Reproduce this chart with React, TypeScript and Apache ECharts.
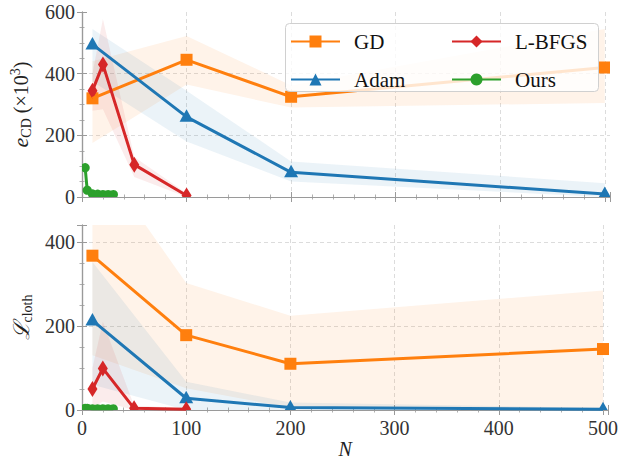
import React, { useEffect, useRef } from 'react';
import * as echarts from 'echarts';

// ---------- data ----------
const methodNames = ['GD', 'Adam', 'L-BFGS', 'Ours'];
const methodColors = ['#ff7f0e', '#1f77b4', '#d62728', '#2ca02c'];
const markerKinds = ['square', 'triangle', 'diamond', 'circle'];
const legendSymbols = ['rect', 'triangle', 'diamond', 'circle'];

const nGD = [10, 100, 200, 500];
const nAdam = [10, 100, 200, 500];
const nLBFGS = [10, 20, 50, 100];
const nOurs = [3, 5, 10, 15, 20, 25, 30];

// top panel: e_CD (x10^3)
const gdCD = [320, 445, 325, 420];
const gdCDLo = [175, 365, 290, 305];
const gdCDHi = [440, 522, 362, 545];
const adamCD = [495, 260, 80, 10];
const adamCDLo = [375, 180, 50, 0];
const adamCDHi = [545, 345, 115, 45];
const lbfgsCD = [345, 430, 105, 5];
const lbfgsCDLo = [280, 285, 65, 0];
const lbfgsCDHi = [400, 577, 130, 12];
const oursCD = [95, 22, 10, 9, 8, 8, 8];
const oursCDLo = [70, 10, 4, 4, 3, 3, 3];
const oursCDHi = [135, 35, 16, 14, 13, 13, 13];

// bottom panel: L_cloth
const gdL = [367, 178, 110, 145];
const gdLLo = [130, 52, 5, 5];
const gdLHi = [620, 302, 224, 284];
const adamL = [213, 28, 6, 2];
const adamLLo = [60, 0, 0, 0];
const adamLHi = [352, 67, 18, 5];
const lbfgsL = [50, 99, 4, 2];
const lbfgsLLo = [5, 20, 0, 0];
const lbfgsLHi = [100, 210, 10, 5];
const oursL = [4, 4, 3, 3, 3, 3, 3];
const oursLLo = [2, 2, 1, 1, 1, 1, 1];
const oursLHi = [7, 7, 6, 6, 6, 6, 6];

const xTicks = [0, 100, 200, 300, 400, 500];
const yTicksTop = [0, 200, 400, 600];
const yTicksBottom = [0, 200, 400];

const panels = [
  {
    xs: [nGD, nAdam, nLBFGS, nOurs],
    mean: [gdCD, adamCD, lbfgsCD, oursCD],
    lo: [gdCDLo, adamCDLo, lbfgsCDLo, oursCDLo],
    hi: [gdCDHi, adamCDHi, lbfgsCDHi, oursCDHi],
  },
  {
    xs: [nGD, nAdam, nLBFGS, nOurs],
    mean: [gdL, adamL, lbfgsL, oursL],
    lo: [gdLLo, adamLLo, lbfgsLLo, oursLLo],
    hi: [gdLHi, adamLHi, lbfgsLHi, oursLHi],
  },
];

const FONT = '"Liberation Serif", "Times New Roman", serif';
const AXIS_COLOR = '#9a9a9a';
const LABEL_COLOR = '#333';

function bandSeries(gi: number, mi: number) {
  const p = panels[gi];
  const xs = p.xs[mi];
  const lo = p.lo[mi];
  const hi = p.hi[mi];
  return {
    type: 'custom',
    xAxisIndex: gi,
    yAxisIndex: gi,
    clip: true,
    silent: true,
    data: xs.map((x, i) => [x, lo[i], hi[i]]),
    encode: { x: 0, y: [1, 2] },
    renderItem: (params: any, api: any) => {
      if (params.dataIndex !== 0) return null;
      const pts: number[][] = [];
      for (let i = 0; i < xs.length; i++) pts.push(api.coord([xs[i], hi[i]]));
      for (let i = xs.length - 1; i >= 0; i--) pts.push(api.coord([xs[i], lo[i]]));
      return {
        type: 'polygon',
        shape: { points: pts },
        style: { fill: methodColors[mi], opacity: 0.09 },
      };
    },
  };
}

function lineSeries(gi: number, mi: number) {
  const p = panels[gi];
  return {
    type: 'line',
    name: methodNames[mi],
    xAxisIndex: gi,
    yAxisIndex: gi,
    data: p.xs[mi].map((x, i) => [x, p.mean[mi][i]]),
    showSymbol: false,
    symbol: legendSymbols[mi],
    clip: true,
    color: methodColors[mi],
    lineStyle: { width: 3, color: methodColors[mi] },
    itemStyle: { color: methodColors[mi] },
  };
}

function markerSeries(gi: number, mi: number) {
  const p = panels[gi];
  const kind = markerKinds[mi];
  const color = methodColors[mi];
  return {
    type: 'custom',
    xAxisIndex: gi,
    yAxisIndex: gi,
    clip: true,
    silent: true,
    data: p.xs[mi].map((x, i) => [x, p.mean[mi][i]]),
    encode: { x: 0, y: 1 },
    renderItem: (params: any, api: any) => {
      const c = api.coord([api.value(0), api.value(1)]);
      const cx = c[0];
      const cy = c[1];
      const style = { fill: color };
      if (kind === 'square') {
        return { type: 'rect', shape: { x: cx - 6, y: cy - 6, width: 12, height: 12 }, style };
      }
      if (kind === 'triangle') {
        return {
          type: 'polygon',
          shape: { points: [[cx, cy - 7.5], [cx + 7, cy + 5], [cx - 7, cy + 5]] },
          style,
        };
      }
      if (kind === 'diamond') {
        return {
          type: 'polygon',
          shape: { points: [[cx, cy - 8], [cx + 5, cy], [cx, cy + 8], [cx - 5, cy]] },
          style,
        };
      }
      return { type: 'circle', shape: { cx, cy, r: 4.6 }, style };
    },
  };
}

const App: React.FC = () => {
  const ref = useRef<HTMLDivElement>(null);

  useEffect(() => {
    document.body.style.margin = '0';
    if (!ref.current) return;
    const chart = echarts.init(ref.current, undefined, { renderer: 'svg' });

    const xMax = 505;
    const yMaxes = [600, 440];

    const majorTick = { show: true, inside: true, length: 5, lineStyle: { color: AXIS_COLOR, width: 1 } };
    const minorTickStyle = { show: true, inside: true, length: 2.5, lineStyle: { color: AXIS_COLOR, width: 0.8 } };
    const axisLine = { show: true, lineStyle: { color: AXIS_COLOR, width: 1.2 } };
    const dashed = { show: true, showMinLine: false, showMaxLine: false, lineStyle: { color: '#dcdcdc', type: [4, 3], width: 1 } };

    const xAxes: any[] = [];
    const yAxes: any[] = [];
    // 0,1: bottom majors
    for (let g = 0; g < 2; g++) {
      xAxes.push({
        type: 'value', gridIndex: g, min: 0, max: xMax, interval: 100, position: 'bottom',
        axisLine, axisTick: majorTick, splitLine: dashed,
        axisLabel: g === 1 ? {
          show: true, fontFamily: FONT, fontSize: 20, color: LABEL_COLOR, margin: 8,
          formatter: (v: number) => (xTicks.indexOf(v) >= 0 ? String(v) : ''),
        } : { show: false },
        name: g === 1 ? 'N' : '',
        nameLocation: 'middle', nameGap: 29,
        nameTextStyle: { fontFamily: FONT, fontSize: 20, fontStyle: 'italic', color: '#222' },
      });
    }
    // 2,3: bottom minors
    for (let g = 0; g < 2; g++) {
      xAxes.push({
        type: 'value', gridIndex: g, min: 0, max: xMax, interval: 20, position: 'bottom',
        axisLine: { show: false }, axisTick: minorTickStyle, splitLine: { show: false }, axisLabel: { show: false },
      });
    }
    // 4,5: top majors
    for (let g = 0; g < 2; g++) {
      xAxes.push({
        type: 'value', gridIndex: g, min: 0, max: xMax, interval: 100, position: 'top',
        axisLine, axisTick: majorTick, splitLine: { show: false }, axisLabel: { show: false },
      });
    }
    // 6,7: top minors
    for (let g = 0; g < 2; g++) {
      xAxes.push({
        type: 'value', gridIndex: g, min: 0, max: xMax, interval: 20, position: 'top',
        axisLine: { show: false }, axisTick: minorTickStyle, splitLine: { show: false }, axisLabel: { show: false },
      });
    }

    const yTickSets = [yTicksTop, yTicksBottom];
    const yNames = ['{i|e}{sub|CD} {r|(×10}{sup|3}{r|)}', '{L|ℒ}{sub|cloth}'];
    const rich = {
      i: { fontFamily: FONT, fontStyle: 'italic', fontSize: 22, color: '#222' },
      r: { fontFamily: FONT, fontSize: 20, color: '#222' },
      sub: { fontFamily: FONT, fontSize: 14, color: '#222', padding: [11, 0, 0, 0] },
      sup: { fontFamily: FONT, fontSize: 14, color: '#222', padding: [0, 0, 10, 0] },
      L: { fontFamily: '"DejaVu Serif", serif', fontStyle: 'italic', fontSize: 22, color: '#222' },
    };
    // 0,1: left majors
    for (let g = 0; g < 2; g++) {
      yAxes.push({
        type: 'value', gridIndex: g, min: 0, max: yMaxes[g], interval: 200, position: 'left',
        axisLine, axisTick: majorTick, splitLine: dashed,
        axisLabel: {
          show: true, fontFamily: FONT, fontSize: 20, color: LABEL_COLOR, margin: 7,
          formatter: (v: number) => (yTickSets[g].indexOf(v) >= 0 ? String(v) : ''),
        },
        name: yNames[g], nameLocation: 'middle', nameRotate: 90, nameGap: g === 0 ? 49 : 48,
        nameTextStyle: { fontFamily: FONT, fontSize: 20, color: '#222', rich },
      });
    }
    // 2,3: left minors
    for (let g = 0; g < 2; g++) {
      yAxes.push({
        type: 'value', gridIndex: g, min: 0, max: yMaxes[g], interval: 50, position: 'left',
        axisLine: { show: false }, axisTick: minorTickStyle, splitLine: { show: false }, axisLabel: { show: false },
      });
    }
    // 4,5: right majors
    for (let g = 0; g < 2; g++) {
      yAxes.push({
        type: 'value', gridIndex: g, min: 0, max: yMaxes[g], interval: 200, position: 'right',
        axisLine, axisTick: majorTick, splitLine: { show: false }, axisLabel: { show: false },
      });
    }
    // 6,7: right minors
    for (let g = 0; g < 2; g++) {
      yAxes.push({
        type: 'value', gridIndex: g, min: 0, max: yMaxes[g], interval: 50, position: 'right',
        axisLine: { show: false }, axisTick: minorTickStyle, splitLine: { show: false }, axisLabel: { show: false },
      });
    }

    const series: any[] = [];
    for (let g = 0; g < 2; g++) {
      for (let m = 0; m < 4; m++) series.push(bandSeries(g, m));
    }
    for (let g = 0; g < 2; g++) {
      for (let m = 0; m < 4; m++) {
        series.push(lineSeries(g, m));
        series.push(markerSeries(g, m));
      }
    }

    const legendText = { fontFamily: FONT, fontSize: 21, color: '#111', padding: [0, 0, 0, 9] };
    const legendBase = {
      orient: 'vertical', itemWidth: 49, itemHeight: 15, itemGap: 17, padding: 0,
      top: 31, textStyle: legendText, z: 6, selectedMode: false,
    };

    chart.setOption({
      animation: false,
      backgroundColor: '#fff',
      textStyle: { fontFamily: FONT },
      grid: [
        { left: 82, right: 11, top: 12, height: 185 },
        { left: 82, right: 11, top: 225, height: 185 },
      ],
      xAxis: xAxes,
      yAxis: yAxes,
      legend: [
        { ...legendBase, left: 290, data: ['GD', 'Adam'] },
        { ...legendBase, left: 451, data: ['L-BFGS', 'Ours'] },
      ],
      graphic: [
        {
          type: 'rect', left: 285, top: 23, z: 5,
          shape: { width: 313, height: 68, r: 4 },
          style: { fill: 'rgba(255,255,255,0.8)', stroke: '#d0d0d0', lineWidth: 1 },
        },
      ],
      series,
    });

    return () => chart.dispose();
  }, []);

  return <div ref={ref} style={{ width: 621, height: 466 }} />;
};

export default App;
